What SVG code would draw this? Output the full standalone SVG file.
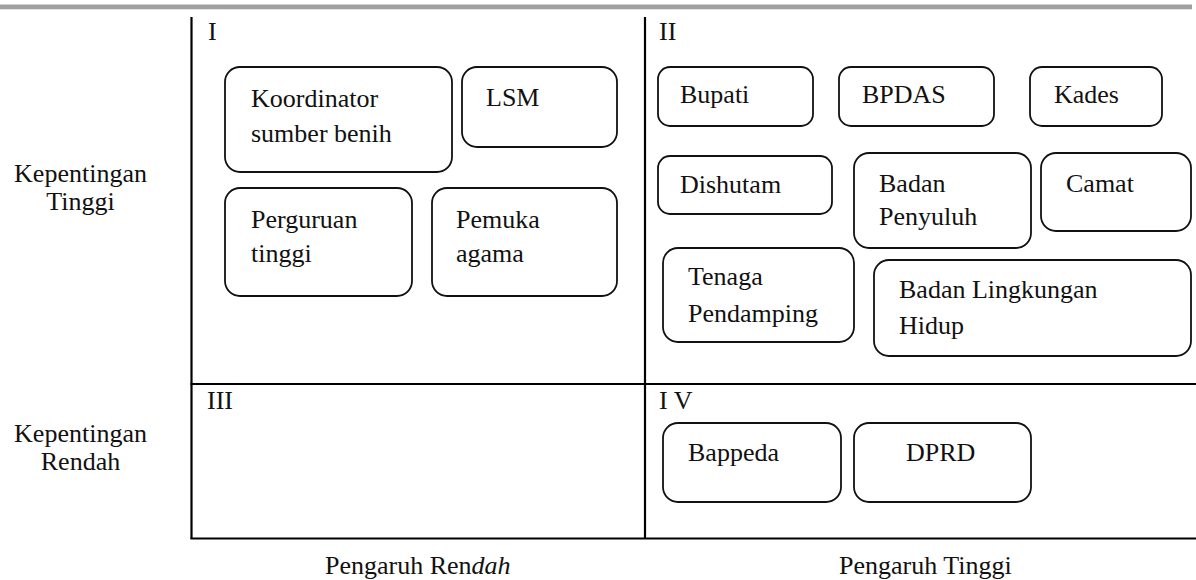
<svg xmlns="http://www.w3.org/2000/svg" width="1196" height="580" viewBox="0 0 1196 580">
<style>
text{font-family:'Liberation Serif','Times New Roman',serif;font-size:26px;fill:#111}
.box{fill:#fff;stroke:#111;stroke-width:1.8}
.grid{stroke:#000;stroke-width:2.2;fill:none}
.mid{text-anchor:middle}
</style>
<rect width="1196" height="580" fill="#fff"/>
<rect x="0" y="4.5" width="1192" height="4.5" fill="#a0a0a0"/>
<rect x="0" y="9" width="1192" height="1" fill="#e2e2e2"/>
<g id="axes">
<line class="grid" x1="191.5" y1="17" x2="191.5" y2="539"/>
<line class="grid" x1="645" y1="17" x2="645" y2="539"/>
<line class="grid" x1="190.5" y1="384" x2="1196" y2="384"/>
<line class="grid" x1="190.5" y1="538.5" x2="1196" y2="538.5"/>
</g>
<g id="labels">
<text x="208" y="40">I</text>
<text x="659" y="40">II</text>
<text x="207" y="409">III</text>
<text x="659" y="409">I V</text>
<text class="mid" x="80.5" y="182">Kepentingan</text>
<text class="mid" x="80.5" y="210">Tinggi</text>
<text class="mid" x="80.5" y="442">Kepentingan</text>
<text class="mid" x="80.5" y="470">Rendah</text>
<text x="325" y="574">Pengaruh Ren<tspan font-style="italic">dah</tspan></text>
<text x="839" y="574">Pengaruh Tinggi</text>
</g>
<g id="connectors"></g>
<g id="koordinator"><rect class="box" x="225" y="67" width="227" height="105" rx="15"/><text x="251" y="107">Koordinator</text><text x="251" y="142">sumber benih</text></g>
<g id="lsm"><rect class="box" x="462" y="67" width="155" height="80" rx="15"/><text x="486" y="106">LSM</text></g>
<g id="perguruan"><rect class="box" x="225" y="188" width="187" height="108" rx="15"/><text x="251" y="228">Perguruan</text><text x="251" y="262">tinggi</text></g>
<g id="pemuka"><rect class="box" x="432" y="188" width="185" height="108" rx="15"/><text x="456" y="228">Pemuka</text><text x="456" y="262">agama</text></g>
<g id="bupati"><rect class="box" x="658" y="67" width="155" height="59" rx="12"/><text x="680" y="103">Bupati</text></g>
<g id="bpdas"><rect class="box" x="839" y="67" width="155" height="59" rx="12"/><text x="862" y="103">BPDAS</text></g>
<g id="kades"><rect class="box" x="1030" y="67" width="132" height="59" rx="12"/><text x="1054" y="103">Kades</text></g>
<g id="dishutam"><rect class="box" x="658" y="156" width="174" height="58" rx="12"/><text x="680" y="193">Dishutam</text></g>
<g id="badan-penyuluh"><rect class="box" x="854" y="153" width="177" height="95" rx="15"/><text x="879" y="192">Badan</text><text x="879" y="225">Penyuluh</text></g>
<g id="camat"><rect class="box" x="1041" y="153" width="150" height="78" rx="15"/><text x="1066" y="192">Camat</text></g>
<g id="tenaga"><rect class="box" x="663" y="248" width="191" height="94" rx="15"/><text x="688" y="285">Tenaga</text><text x="688" y="322">Pendamping</text></g>
<g id="blh"><rect class="box" x="874" y="260" width="317" height="96" rx="15"/><text x="899" y="298">Badan Lingkungan</text><text x="899" y="334">Hidup</text></g>
<g id="bappeda"><rect class="box" x="663" y="423" width="178" height="79" rx="15"/><text x="688" y="461">Bappeda</text></g>
<g id="dprd"><rect class="box" x="854" y="423" width="177" height="79" rx="15"/><text x="906" y="461">DPRD</text></g>
</svg>
